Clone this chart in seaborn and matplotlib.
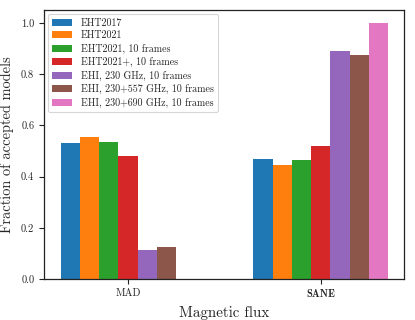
import matplotlib
matplotlib.use("Agg")
import matplotlib.pyplot as plt
import seaborn as sns
import pandas as pd

categories = ["MAD", "SANE"]
series = [
    "EHT2017",
    "EHT2021",
    "EHT2021, 10 frames",
    "EHT2021+, 10 frames",
    "EHI, 230 GHz, 10 frames",
    "EHI, 230+557 GHz, 10 frames",
    "EHI, 230+690 GHz, 10 frames",
]
mad_values = [0.529, 0.555, 0.533, 0.480, 0.112, 0.124, 0.0]
sane_values = [0.470, 0.445, 0.464, 0.520, 0.889, 0.875, 1.0]
yticks = [0.0, 0.2, 0.4, 0.6, 0.8, 1.0]

rows = []
for s, m, v in zip(series, mad_values, sane_values):
    rows.append({"flux": "MAD", "config": s, "frac": m})
    rows.append({"flux": "SANE", "config": s, "frac": v})
df = pd.DataFrame(rows)

sns.set_style("ticks")
plt.rcParams["font.family"] = ["cmr10", "DejaVu Serif"]
plt.rcParams["axes.unicode_minus"] = False
plt.rcParams["axes.formatter.use_mathtext"] = True

fig = plt.figure(figsize=(4.15, 3.2), dpi=100)
ax = fig.add_axes([44 / 415, 1 - 279 / 320, 360 / 415, 269 / 320])

sns.barplot(data=df, x="flux", y="frac", hue="config", order=categories,
            hue_order=series, palette="tab10", width=0.7, linewidth=0,
            saturation=1, ax=ax)

ax.set_xlim(-0.436, 1.432)
ax.set_ylim(0, 1.05)
ax.set_yticks(yticks)
ax.set_yticklabels([f"{t:.1f}" for t in yticks], fontsize=7.5)
ax.set_xticks([0, 1])
ax.set_xticklabels(categories, fontsize=7.5)
ax.get_xticklabels()[1].set_fontfamily("cmb10")
for sp in ax.spines.values():
    sp.set_visible(True)
    sp.set_color("#222222")
    sp.set_linewidth(0.9)
ax.tick_params(direction="out", length=3.5, width=0.8, color="#222222")
ax.set_xlabel("Magnetic flux", fontsize=10.8, labelpad=5)
ax.set_ylabel("Fraction of accepted models", fontsize=10.4, labelpad=5)

leg = ax.legend(loc="upper left", fontsize=7.2, frameon=True, fancybox=True,
                handlelength=2.0, handleheight=0.7, labelspacing=0.33,
                borderpad=0.4, handletextpad=0.9, borderaxespad=0.4,
                bbox_to_anchor=(0.0, 1.0))
leg.get_frame().set_edgecolor("#cccccc")
leg.get_frame().set_linewidth(0.8)

fig.savefig("out.png", dpi=100)
